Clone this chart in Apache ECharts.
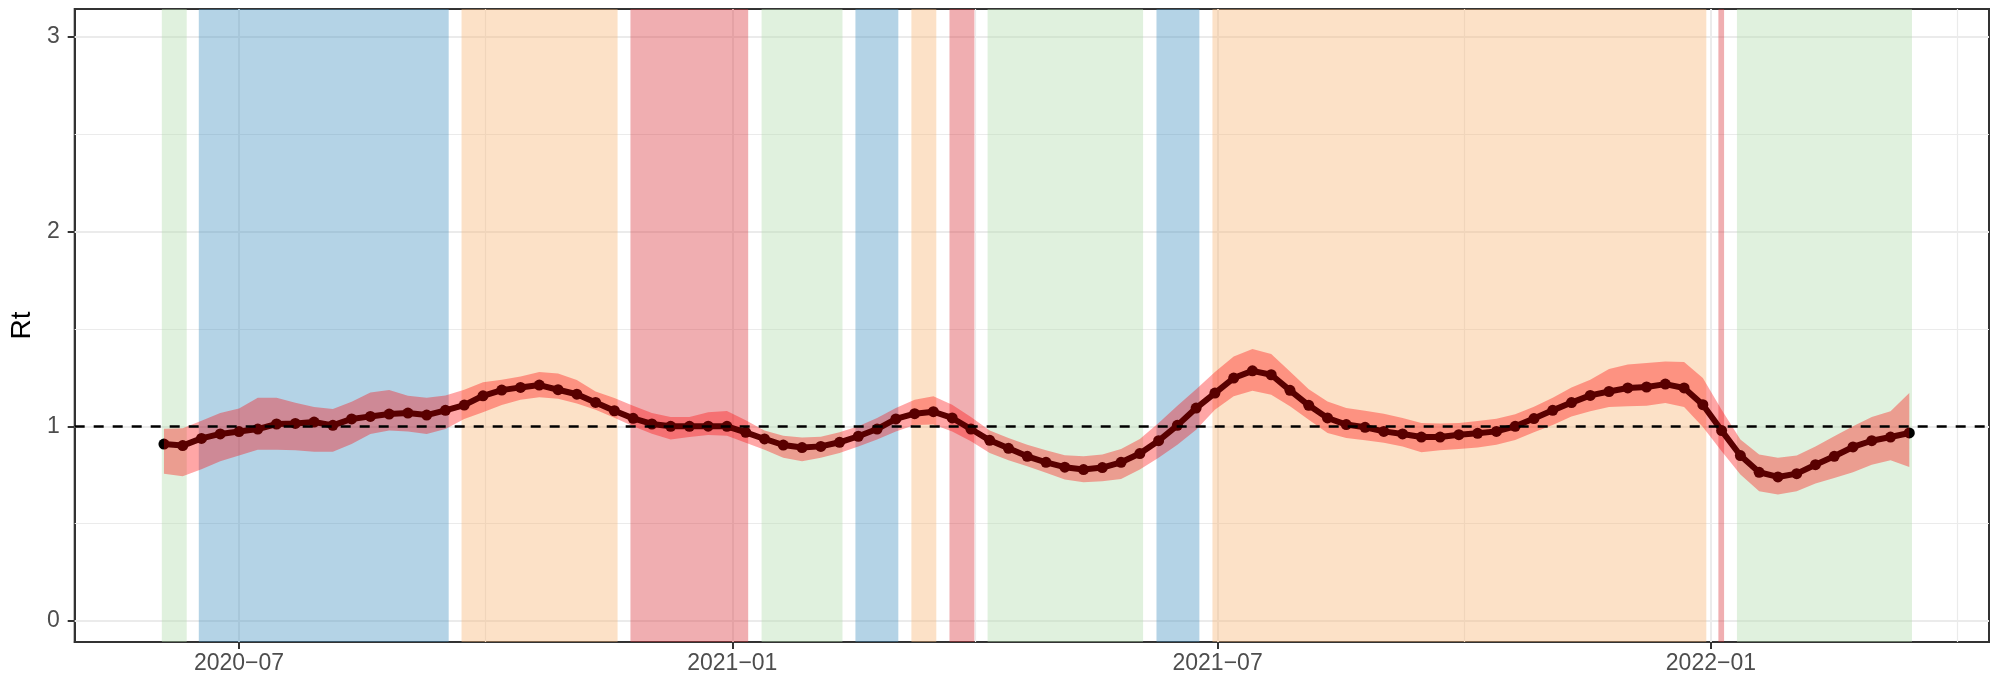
<!DOCTYPE html>
<html>
<head>
<meta charset="utf-8">
<title>Rt</title>
<script src="https://cdn.jsdelivr.net/npm/echarts@6.0.0/dist/echarts.min.js"></script>
<style>
  * { margin: 0; padding: 0; }
  body { background: #fff; }
  #main { width: 1990px; height: 675px; }
</style>
</head>
<body>
<div id="main"></div>
<script>
// weekly Rt estimates, first estimate on 2020-06-03, one per week
const firstWeek = '2020-06-03';
const rt = [
  0.909, 0.901, 0.938, 0.961, 0.973, 0.986, 1.012, 1.015, 1.022, 1.005,
  1.038, 1.051, 1.063, 1.068, 1.058, 1.082, 1.109, 1.157, 1.186, 1.200,
  1.212, 1.188, 1.165, 1.123, 1.080, 1.041, 1.012, 1.000, 1.000, 1.001,
  1.000, 0.969, 0.935, 0.904, 0.891, 0.897, 0.918, 0.949, 0.986, 1.038,
  1.065, 1.075, 1.043, 0.986, 0.928, 0.887, 0.846, 0.815, 0.790, 0.778,
  0.788, 0.815, 0.860, 0.926, 1.005, 1.094, 1.171, 1.248, 1.285, 1.265,
  1.185, 1.108, 1.043, 1.009, 0.995, 0.974, 0.961, 0.945, 0.945, 0.957,
  0.964, 0.974, 1.000, 1.040, 1.082, 1.122, 1.159, 1.179, 1.197, 1.202,
  1.217, 1.197, 1.111, 0.978, 0.850, 0.764, 0.740, 0.757, 0.803, 0.846,
  0.894, 0.926, 0.945, 0.966
];
const rtUpper = [
  0.988, 0.990, 1.029, 1.068, 1.092, 1.147, 1.147, 1.121, 1.099, 1.089,
  1.126, 1.174, 1.186, 1.157, 1.147, 1.159, 1.188, 1.227, 1.239, 1.256,
  1.279, 1.272, 1.238, 1.179, 1.145, 1.106, 1.068, 1.048, 1.048, 1.072,
  1.079, 1.031, 0.979, 0.952, 0.942, 0.947, 0.969, 1.000, 1.043, 1.094,
  1.137, 1.154, 1.111, 1.048, 0.979, 0.940, 0.906, 0.877, 0.852, 0.846,
  0.855, 0.884, 0.935, 1.017, 1.106, 1.191, 1.279, 1.359, 1.397, 1.371,
  1.282, 1.191, 1.128, 1.094, 1.080, 1.065, 1.043, 1.017, 1.014, 1.017,
  1.027, 1.039, 1.062, 1.100, 1.147, 1.200, 1.239, 1.294, 1.318, 1.325,
  1.333, 1.330, 1.248, 1.085, 0.932, 0.855, 0.838, 0.850, 0.897, 0.949,
  1.000, 1.048, 1.077, 1.171
];
const rtLower = [
  0.757, 0.744, 0.779, 0.821, 0.850, 0.880, 0.880, 0.877, 0.870, 0.870,
  0.909, 0.961, 0.979, 0.974, 0.961, 0.986, 1.038, 1.072, 1.109, 1.137,
  1.149, 1.142, 1.117, 1.085, 1.044, 1.000, 0.962, 0.932, 0.945, 0.956,
  0.952, 0.915, 0.880, 0.838, 0.821, 0.838, 0.863, 0.897, 0.932, 0.974,
  1.007, 1.009, 0.974, 0.923, 0.863, 0.826, 0.795, 0.761, 0.727, 0.713,
  0.718, 0.730, 0.778, 0.838, 0.906, 0.983, 1.085, 1.154, 1.183, 1.162,
  1.103, 1.034, 0.966, 0.940, 0.928, 0.915, 0.897, 0.867, 0.877, 0.884,
  0.891, 0.906, 0.930, 0.970, 1.007, 1.051, 1.077, 1.099, 1.103, 1.106,
  1.120, 1.099, 0.997, 0.872, 0.752, 0.667, 0.650, 0.667, 0.706, 0.735,
  0.764, 0.803, 0.826, 0.791
];

// background periods
const bandStart = [
  '2020-06-02 05:00', '2020-06-16', '2020-09-22', '2020-11-24',
  '2021-01-11 22:00', '2021-02-15 22:00', '2021-03-08 19:00', '2021-03-23',
  '2021-04-06 05:00', '2021-06-08 05:00', '2021-06-29 02:00', '2022-01-03 19:00',
  '2022-01-10 17:00'
];
const bandEnd = [
  '2020-06-11 12:00', '2020-09-17 05:00', '2020-11-19 05:00', '2021-01-06 22:00',
  '2021-02-11 02:00', '2021-03-03 22:00', '2021-03-18 02:00', '2021-04-01 07:00',
  '2021-06-03 05:00', '2021-06-24 05:00', '2021-12-30 07:00', '2022-01-05 22:00',
  '2022-03-17'
];
const bandLevel = [
  'green', 'blue', 'orange', 'red',
  'green', 'blue', 'orange', 'red',
  'green', 'blue', 'orange', 'red',
  'green'
];
const levelColor = {
  green: 'rgba(178,220,173,0.4)',
  blue: 'rgba(68,145,193,0.4)',
  orange: 'rgba(248,180,115,0.4)',
  red: 'rgba(218,53,60,0.4)'
};

// axes
const xMajor = ['2020-07-01', '2021-01-01', '2021-07-01', '2022-01-01'];
const xLabels = ['2020\u221207', '2021\u221201', '2021\u221207', '2022\u221201'];
const xMinor = ['2020-10-01', '2021-04-01 12:00', '2021-10-01', '2022-04-03'];
const xRange = ['2020-04-30 17:00', '2022-04-14 17:30'];
const yMajor = [0, 1, 2, 3];
const yMinor = [0.5, 1.5, 2.5];
const yRange = [-0.108, 3.144];

const t = s => echarts.time.parse(s).getTime();
const DAY = 86400000;
const weeks = rt.map((v, i) => t(firstWeek) + i * 7 * DAY);
const xTicks = xMajor.map(t);

const font = 'Liberation Sans, Arial, sans-serif';
const gridColor = '#ebebeb';

let myChart = echarts.init(document.getElementById('main'), null, { renderer: 'canvas' });

let gridLines = []
  .concat(xMinor.map(d => ({ xAxis: t(d), lineStyle: { color: gridColor, width: 1.2, type: 'solid' } })))
  .concat(yMinor.map(v => ({ yAxis: v, lineStyle: { color: gridColor, width: 1.2, type: 'solid' } })))
  .concat(xMajor.map(d => ({ xAxis: t(d), lineStyle: { color: gridColor, width: 2, type: 'solid' } })))
  .concat(yMajor.map(v => ({ yAxis: v, lineStyle: { color: gridColor, width: 2, type: 'solid' } })));

let bands = bandStart.map((s, i) => [
  { xAxis: t(s), itemStyle: { color: levelColor[bandLevel[i]] } },
  { xAxis: t(bandEnd[i]) }
]);

let option = {
  animation: false,
  backgroundColor: '#fff',
  grid: {
    left: 74, right: 1, top: 9, bottom: 32,
    show: true, borderColor: '#333333', borderWidth: 2, backgroundColor: '#fff'
  },
  xAxis: {
    type: 'value',
    min: t(xRange[0]),
    max: t(xRange[1]),
    axisLine: { show: true, onZero: false, lineStyle: { color: '#333333', width: 2 } },
    axisTick: { show: true, length: 7, customValues: xTicks, lineStyle: { color: '#333333', width: 2 } },
    axisLabel: {
      customValues: xTicks,
      formatter: v => xLabels[xTicks.indexOf(v)],
      color: '#4d4d4d', fontSize: 23, fontFamily: font, margin: 10
    },
    splitLine: { show: false }
  },
  yAxis: {
    type: 'value',
    min: yRange[0],
    max: yRange[1],
    name: 'Rt',
    nameLocation: 'middle',
    nameRotate: 90,
    nameGap: 38,
    nameTextStyle: { color: '#000', fontSize: 28, fontFamily: font },
    axisLine: { show: true, lineStyle: { color: '#333333', width: 2 } },
    axisTick: { show: true, length: 7, customValues: yMajor, lineStyle: { color: '#333333', width: 2 } },
    axisLabel: { customValues: yMajor, color: '#4d4d4d', fontSize: 23, fontFamily: font, margin: 15 },
    splitLine: { show: false }
  },
  series: [
    {
      type: 'line', data: [], z: 1, silent: true,
      markLine: { z: 1, silent: true, symbol: ['none', 'none'], label: { show: false }, emphasis: { disabled: true }, data: gridLines }
    },
    {
      type: 'line', data: [], z: 2, silent: true,
      markArea: { z: 2, silent: true, label: { show: false }, emphasis: { disabled: true }, data: bands }
    },
    {
      type: 'line',
      data: weeks.map((w, i) => [w, rt[i]]),
      z: 3, silent: true,
      symbol: 'circle', symbolSize: 11, showAllSymbol: true,
      itemStyle: { color: '#000' },
      lineStyle: { color: '#000', width: 6 }
    },
    {
      type: 'custom',
      z: 4, silent: true,
      data: [[weeks[0], rtLower[0]]],
      renderItem: function (params, api) {
        let pts = [];
        for (let i = 0; i < weeks.length; i++) pts.push(api.coord([weeks[i], rtUpper[i]]));
        for (let i = weeks.length - 1; i >= 0; i--) pts.push(api.coord([weeks[i], rtLower[i]]));
        return { type: 'polygon', shape: { points: pts }, style: { fill: 'rgba(255,0,0,0.35)' } };
      }
    },
    {
      type: 'line', data: [], z: 5, silent: true,
      markLine: {
        z: 5, silent: true, symbol: ['none', 'none'], label: { show: false }, emphasis: { disabled: true },
        data: [{ yAxis: 1 }],
        lineStyle: { color: '#000', width: 2.5, type: [10, 9] }
      }
    }
  ]
};

myChart.setOption(option);
</script>
</body>
</html>
